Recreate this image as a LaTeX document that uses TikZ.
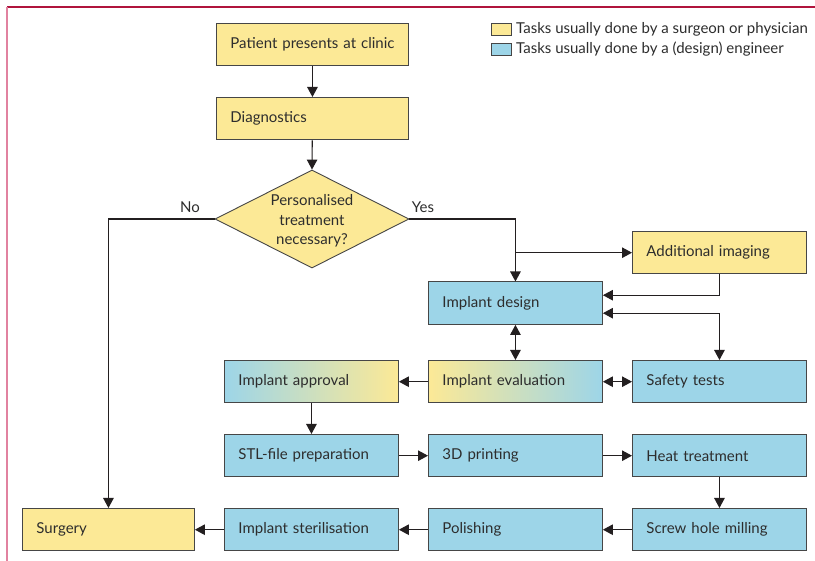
\documentclass[tikz,border=0pt]{standalone}
\usepackage{fontspec}
\setmainfont{Lato}
\usetikzlibrary{shapes.geometric,arrows.meta}
\definecolor{ylw}{RGB}{252,233,150}
\definecolor{blu}{RGB}{157,213,232}
\definecolor{edgec}{RGB}{70,70,70}
\definecolor{txt}{RGB}{45,45,45}
\definecolor{lancet}{RGB}{176,20,60}
\definecolor{pinkline}{RGB}{225,130,160}
\definecolor{linec}{RGB}{35,31,32}
\begin{document}
\begin{tikzpicture}[x=1pt,y=-1pt, font=\fontsize{15}{18}\selectfont, text=txt,
  box/.style={draw=edgec, line width=0.9pt, minimum height=42.5pt, text width=146pt,
    inner xsep=14pt, inner ysep=0pt, align=left, anchor=north west},
  ybox/.style={box, fill=ylw},
  bbox/.style={box, fill=blu},
  arr/.style={draw=linec, line width=1.1pt, -{Triangle[length=10pt,width=10.5pt]}},
  arrb/.style={draw=linec, line width=1.1pt, {Triangle[length=10pt,width=10.5pt]}-{Triangle[length=10pt,width=10.5pt]}},
  leg/.style={draw=edgec, line width=0.9pt, minimum width=20pt, minimum height=12pt, inner sep=0pt, anchor=north west}
]
\useasboundingbox (0,0) rectangle (815,561);
\fill[white] (0,0) rectangle (815,561);
% frame
\draw[lancet, line width=1.1pt] (7,7) -- (815,7);
\draw[pinkline, line width=2pt] (7,7) -- (7,561);

% legend
\node[leg, fill=ylw] (legy) at (491,23) {};
\node[leg, fill=blu] (legb) at (491,43) {};
\node[anchor=west, inner sep=0pt] (legyt) at (516,29) {Tasks usually done by a surgeon or physician};
\node[anchor=west, inner sep=0pt] (legbt) at (516,49) {Tasks usually done by a (design) engineer};

% boxes
\node[ybox, text width=164pt] (patient) at (216,23) {\mbox{Patient presents at clinic}};
\node[ybox, text width=164pt] (diag) at (216,97) {Diagnostics};
\node[diamond, draw=edgec, line width=0.9pt, fill=ylw, aspect=2, inner sep=0pt,
  minimum width=194pt, minimum height=98pt] (dia) at (312,219) {};
\node[align=center, inner sep=0pt, font=\fontsize{15}{19.5}\selectfont] (diatext) at (312,221) {Personalised\\treatment\\necessary?};
\node[ybox] (addimg) at (632,231) {Additional imaging};
\node[bbox] (design) at (428,281.5) {Implant design};
\node[box, left color=ylw, right color=blu] (eval) at (428,360) {Implant evaluation};
\node[bbox] (safety) at (632,360) {Safety tests};
\node[box, left color=blu, right color=ylw] (approval) at (224,360) {Implant approval};
\node[bbox] (stl) at (224,434) {STL-file preparation};
\node[bbox] (print) at (428,434) {3D printing};
\node[bbox] (heat) at (632,434) {Heat treatment};
\node[bbox] (screw) at (632,508) {Screw hole milling};
\node[bbox] (polish) at (428,508) {Polishing};
\node[bbox] (steril) at (224,508) {Implant sterilisation};
\node[ybox, text width=144pt] (surgery) at (22,508) {Surgery};

% labels
\node (nolbl) at (190,207) {No};
\node (yeslbl) at (423,207) {Yes};

% connectors
\draw[arr] (patient) -- (diag);
\draw[arr] (diag) -- (dia.north);
\draw[arr] (dia.west) -| (surgery.north);
\draw[arr] (dia.east) -| (design.north);
\draw[arr] (design.north |- addimg.west) -- (addimg.west);
\draw[arr] (addimg.south) |- ([yshift=8pt]design.east);
\draw[arrb] ([yshift=-10pt]design.east) -| (safety.north);
\draw[arrb] (design) -- (eval);
\draw[arrb] (eval) -- (safety);
\draw[arr] (eval) -- (approval);
\draw[arr] (approval) -- (stl);
\draw[arr] (stl) -- (print);
\draw[arr] (print) -- (heat);
\draw[arr] (heat) -- (screw);
\draw[arr] (screw) -- (polish);
\draw[arr] (polish) -- (steril);
\draw[arr] (steril) -- (surgery);
\end{tikzpicture}
\end{document}
